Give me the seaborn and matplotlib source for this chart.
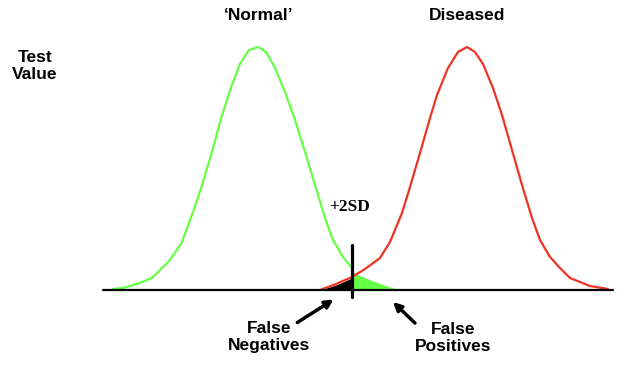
import numpy as np
import pandas as pd
import seaborn as sns
import matplotlib.pyplot as plt

# curves: x = test value position, h = height above baseline
normal_x = [113, 123, 137, 152, 170, 182, 193, 202, 212, 220, 230, 240, 249, 258, 266, 275, 285, 295, 305, 315, 325, 333, 343, 352]
normal_h = [1, 2, 6, 12, 30, 48, 78, 105, 138, 168, 200, 226, 240, 243, 238, 222, 198, 170, 138, 105, 72, 50, 33, 22]
diseased_x = [320, 336, 352, 365, 380, 390, 402, 410, 420, 430, 437, 448, 458, 467, 475, 483, 493, 502, 512, 522, 532, 540, 550, 560, 570, 590, 608]
diseased_h = [0, 6, 13, 21, 32, 48, 77, 103, 137, 172, 195, 222, 238, 243, 238, 226, 202, 175, 140, 105, 72, 50, 33, 22, 12, 4, 1]

# shaded tails either side of the +2SD cut-off
fp_x = [352, 368, 384, 400]
fp_h = [18, 11, 5, 0]
fn_x = [320, 336, 352]
fn_h = [0, 5, 12]
cutoff = 352

sns.set_style("white")
plt.rcParams["text.color"] = "black"
fig = plt.figure(figsize=(6.4, 3.68), dpi=100)
ax = fig.add_axes([0, 0, 1, 1])

df_n = pd.DataFrame({"x": normal_x, "h": normal_h})
df_d = pd.DataFrame({"x": diseased_x, "h": diseased_h})
sns.lineplot(data=df_n, x="x", y="h", sort=False, color="#66ff44", lw=1.6, ax=ax)
sns.lineplot(data=df_d, x="x", y="h", sort=False, color="#ee3322", lw=1.6, ax=ax)

ax.fill_between(fp_x, 0, fp_h, color="#66ff44", lw=0)
ax.fill_between(fn_x, 0, fn_h, color="black", lw=0)

ax.plot([103, 613], [0, 0], color="black", lw=1.6)
ax.plot([cutoff, cutoff], [45, -7], color="black", lw=2.3)

bold = dict(fontsize=12.5, fontweight="bold", family="Liberation Sans", ha="center", va="center",
            color="black", linespacing=1.2)
ax.text(259, 274, "\u2018Normal\u2019", **bold)
ax.text(467, 274, "Diseased", **bold)
ax.text(35, 224, "Test\nValue", **bold)
ax.text(269, -47, "False\nNegatives", **bold)
ax.text(453, -48, "False\nPositives", **bold)
ax.text(350, 83, "+2SD", fontsize=12.5, fontweight="bold", family="Liberation Serif",
        ha="center", va="center", color="black")

ax.annotate("", xy=(336, -8), xytext=(295, -34),
            arrowprops=dict(arrowstyle="-|>", color="black", lw=2.5, mutation_scale=12))
ax.annotate("", xy=(391, -10), xytext=(417, -35),
            arrowprops=dict(arrowstyle="-|>", color="black", lw=2.5, mutation_scale=12))

ax.set_xlim(0, 640)
ax.set_ylim(-78, 290)
ax.axis("off")
fig.savefig("out.png", dpi=100)
